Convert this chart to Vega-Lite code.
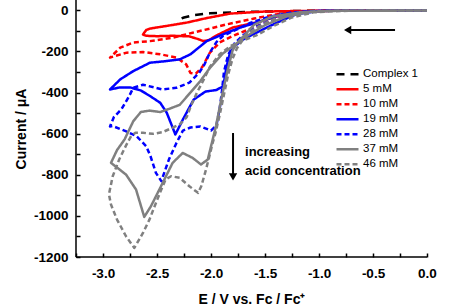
{
"$schema": "https://vega.github.io/schema/vega-lite/v6.json",
"width": 351, "height": 257,
"autosize": "none",
"padding": {"left": 76, "top": 0, "right": 30, "bottom": 50},
"background": "white",
"config": {"view": {"stroke": null}, "font": "Liberation Sans"},
"datasets": {
"cv": [
{"s":"Complex 1","i":0,"E":0,"I":-1},{"s":"Complex 1","i":1,"E":-0.5,"I":-1},{"s":"Complex 1","i":2,"E":-1.0,"I":-2},{"s":"Complex 1","i":3,"E":-1.5,"I":-6},{"s":"Complex 1","i":4,"E":-1.8,"I":-10},{"s":"Complex 1","i":5,"E":-2.01,"I":-15},{"s":"Complex 1","i":6,"E":-2.155,"I":-23},{"s":"Complex 1","i":7,"E":-2.25,"I":-35},{"s":"Complex 1","i":8,"E":-2.32,"I":-50},
{"s":"5 mM","i":0,"E":0,"I":-1},{"s":"5 mM","i":1,"E":-0.8,"I":-2},{"s":"5 mM","i":2,"E":-1.0,"I":-3},{"s":"5 mM","i":3,"E":-1.2,"I":-8},{"s":"5 mM","i":4,"E":-1.39,"I":-30},{"s":"5 mM","i":5,"E":-1.57,"I":-58},{"s":"5 mM","i":6,"E":-1.8,"I":-84},{"s":"5 mM","i":7,"E":-1.94,"I":-120},{"s":"5 mM","i":8,"E":-2.02,"I":-145},{"s":"5 mM","i":9,"E":-2.07,"I":-150},{"s":"5 mM","i":10,"E":-2.12,"I":-140},{"s":"5 mM","i":11,"E":-2.2,"I":-127},{"s":"5 mM","i":12,"E":-2.35,"I":-124},{"s":"5 mM","i":13,"E":-2.5,"I":-126},{"s":"5 mM","i":14,"E":-2.6,"I":-124},{"s":"5 mM","i":15,"E":-2.63,"I":-118},{"s":"5 mM","i":16,"E":-2.6,"I":-96},{"s":"5 mM","i":17,"E":-2.565,"I":-89},{"s":"5 mM","i":18,"E":-2.41,"I":-76},{"s":"5 mM","i":19,"E":-2.225,"I":-60},{"s":"5 mM","i":20,"E":-2.04,"I":-38},{"s":"5 mM","i":21,"E":-1.82,"I":-16},{"s":"5 mM","i":22,"E":-1.5,"I":-6},{"s":"5 mM","i":23,"E":-1.0,"I":-2},{"s":"5 mM","i":24,"E":0,"I":-1},
{"s":"10 mM","i":0,"E":0,"I":-1},{"s":"10 mM","i":1,"E":-0.9,"I":-2},{"s":"10 mM","i":2,"E":-1.2,"I":-11},{"s":"10 mM","i":3,"E":-1.39,"I":-40},{"s":"10 mM","i":4,"E":-1.57,"I":-76},{"s":"10 mM","i":5,"E":-1.8,"I":-125},{"s":"10 mM","i":6,"E":-1.92,"I":-157},{"s":"10 mM","i":7,"E":-2.01,"I":-206},{"s":"10 mM","i":8,"E":-2.08,"I":-275},{"s":"10 mM","i":9,"E":-2.14,"I":-308},{"s":"10 mM","i":10,"E":-2.19,"I":-305},{"s":"10 mM","i":11,"E":-2.23,"I":-263},{"s":"10 mM","i":12,"E":-2.32,"I":-230},{"s":"10 mM","i":13,"E":-2.47,"I":-214},{"s":"10 mM","i":14,"E":-2.63,"I":-203},{"s":"10 mM","i":15,"E":-2.78,"I":-206},{"s":"10 mM","i":16,"E":-2.935,"I":-230},{"s":"10 mM","i":17,"E":-2.84,"I":-182},{"s":"10 mM","i":18,"E":-2.72,"I":-157},{"s":"10 mM","i":19,"E":-2.565,"I":-150},{"s":"10 mM","i":20,"E":-2.35,"I":-133},{"s":"10 mM","i":21,"E":-2.17,"I":-109},{"s":"10 mM","i":22,"E":-2.0,"I":-88},{"s":"10 mM","i":23,"E":-1.85,"I":-68},{"s":"10 mM","i":24,"E":-1.6,"I":-40},{"s":"10 mM","i":25,"E":-1.4,"I":-20},{"s":"10 mM","i":26,"E":-1.2,"I":-8},{"s":"10 mM","i":27,"E":-1.0,"I":-3},{"s":"10 mM","i":28,"E":0,"I":-1},
{"s":"19 mM","i":0,"E":0,"I":-1},{"s":"19 mM","i":1,"E":-1.0,"I":-3},{"s":"19 mM","i":2,"E":-1.21,"I":-19},{"s":"19 mM","i":3,"E":-1.39,"I":-60},{"s":"19 mM","i":4,"E":-1.58,"I":-109},{"s":"19 mM","i":5,"E":-1.7,"I":-141},{"s":"19 mM","i":6,"E":-1.78,"I":-174},{"s":"19 mM","i":7,"E":-1.824,"I":-206},{"s":"19 mM","i":8,"E":-1.855,"I":-271},{"s":"19 mM","i":9,"E":-1.886,"I":-369},{"s":"19 mM","i":10,"E":-1.95,"I":-388},{"s":"19 mM","i":11,"E":-2.05,"I":-395},{"s":"19 mM","i":12,"E":-2.16,"I":-434},{"s":"19 mM","i":13,"E":-2.26,"I":-531},{"s":"19 mM","i":14,"E":-2.33,"I":-604},{"s":"19 mM","i":15,"E":-2.41,"I":-498},{"s":"19 mM","i":16,"E":-2.47,"I":-450},{"s":"19 mM","i":17,"E":-2.565,"I":-417},{"s":"19 mM","i":18,"E":-2.65,"I":-390},{"s":"19 mM","i":19,"E":-2.75,"I":-375},{"s":"19 mM","i":20,"E":-2.85,"I":-376},{"s":"19 mM","i":21,"E":-2.935,"I":-385},{"s":"19 mM","i":22,"E":-2.84,"I":-336},{"s":"19 mM","i":23,"E":-2.72,"I":-296},{"s":"19 mM","i":24,"E":-2.565,"I":-255},{"s":"19 mM","i":25,"E":-2.41,"I":-247},{"s":"19 mM","i":26,"E":-2.29,"I":-239},{"s":"19 mM","i":27,"E":-2.19,"I":-214},{"s":"19 mM","i":28,"E":-2.04,"I":-150},{"s":"19 mM","i":29,"E":-1.89,"I":-117},{"s":"19 mM","i":30,"E":-1.73,"I":-84},{"s":"19 mM","i":31,"E":-1.58,"I":-60},{"s":"19 mM","i":32,"E":-1.39,"I":-28},{"s":"19 mM","i":33,"E":-1.2,"I":-10},{"s":"19 mM","i":34,"E":-1.0,"I":-3},{"s":"19 mM","i":35,"E":0,"I":-1},
{"s":"28 mM","i":0,"E":0,"I":-1},{"s":"28 mM","i":1,"E":-0.9,"I":-2},{"s":"28 mM","i":2,"E":-1.1,"I":-8},{"s":"28 mM","i":3,"E":-1.3,"I":-25},{"s":"28 mM","i":4,"E":-1.45,"I":-50},{"s":"28 mM","i":5,"E":-1.6,"I":-85},{"s":"28 mM","i":6,"E":-1.7,"I":-120},{"s":"28 mM","i":7,"E":-1.78,"I":-160},{"s":"28 mM","i":8,"E":-1.84,"I":-215},{"s":"28 mM","i":9,"E":-1.88,"I":-300},{"s":"28 mM","i":10,"E":-1.9,"I":-400},{"s":"28 mM","i":11,"E":-1.92,"I":-480},{"s":"28 mM","i":12,"E":-1.95,"I":-560},{"s":"28 mM","i":13,"E":-2.0,"I":-585},{"s":"28 mM","i":14,"E":-2.1,"I":-565},{"s":"28 mM","i":15,"E":-2.19,"I":-570},{"s":"28 mM","i":16,"E":-2.26,"I":-585},{"s":"28 mM","i":17,"E":-2.32,"I":-645},{"s":"28 mM","i":18,"E":-2.39,"I":-726},{"s":"28 mM","i":19,"E":-2.46,"I":-831},{"s":"28 mM","i":20,"E":-2.51,"I":-791},{"s":"28 mM","i":21,"E":-2.56,"I":-710},{"s":"28 mM","i":22,"E":-2.6,"I":-661},{"s":"28 mM","i":23,"E":-2.69,"I":-612},{"s":"28 mM","i":24,"E":-2.79,"I":-588},{"s":"28 mM","i":25,"E":-2.91,"I":-563},{"s":"28 mM","i":26,"E":-2.935,"I":-565},{"s":"28 mM","i":27,"E":-2.9,"I":-520},{"s":"28 mM","i":28,"E":-2.83,"I":-482},{"s":"28 mM","i":29,"E":-2.76,"I":-420},{"s":"28 mM","i":30,"E":-2.72,"I":-377},{"s":"28 mM","i":31,"E":-2.63,"I":-362},{"s":"28 mM","i":32,"E":-2.45,"I":-385},{"s":"28 mM","i":33,"E":-2.32,"I":-377},{"s":"28 mM","i":34,"E":-2.2,"I":-352},{"s":"28 mM","i":35,"E":-2.11,"I":-304},{"s":"28 mM","i":36,"E":-2.06,"I":-263},{"s":"28 mM","i":37,"E":-2.01,"I":-205},{"s":"28 mM","i":38,"E":-1.95,"I":-155},{"s":"28 mM","i":39,"E":-1.89,"I":-125},{"s":"28 mM","i":40,"E":-1.76,"I":-93},{"s":"28 mM","i":41,"E":-1.64,"I":-62},{"s":"28 mM","i":42,"E":-1.45,"I":-30},{"s":"28 mM","i":43,"E":-1.25,"I":-10},{"s":"28 mM","i":44,"E":-1.0,"I":-3},{"s":"28 mM","i":45,"E":0,"I":-1},
{"s":"37 mM","i":0,"E":0,"I":-1},{"s":"37 mM","i":1,"E":-0.8,"I":-2},{"s":"37 mM","i":2,"E":-1.0,"I":-5},{"s":"37 mM","i":3,"E":-1.18,"I":-10},{"s":"37 mM","i":4,"E":-1.43,"I":-30},{"s":"37 mM","i":5,"E":-1.6,"I":-70},{"s":"37 mM","i":6,"E":-1.7,"I":-127},{"s":"37 mM","i":7,"E":-1.76,"I":-160},{"s":"37 mM","i":8,"E":-1.8,"I":-195},{"s":"37 mM","i":9,"E":-1.85,"I":-300},{"s":"37 mM","i":10,"E":-1.9,"I":-420},{"s":"37 mM","i":11,"E":-1.954,"I":-563},{"s":"37 mM","i":12,"E":-1.984,"I":-628},{"s":"37 mM","i":13,"E":-2.03,"I":-726},{"s":"37 mM","i":14,"E":-2.093,"I":-750},{"s":"37 mM","i":15,"E":-2.17,"I":-718},{"s":"37 mM","i":16,"E":-2.262,"I":-694},{"s":"37 mM","i":17,"E":-2.355,"I":-742},{"s":"37 mM","i":18,"E":-2.463,"I":-856},{"s":"37 mM","i":19,"E":-2.556,"I":-953},{"s":"37 mM","i":20,"E":-2.618,"I":-1005},{"s":"37 mM","i":21,"E":-2.694,"I":-872},{"s":"37 mM","i":22,"E":-2.787,"I":-799},{"s":"37 mM","i":23,"E":-2.926,"I":-742},{"s":"37 mM","i":24,"E":-2.87,"I":-680},{"s":"37 mM","i":25,"E":-2.8,"I":-628},{"s":"37 mM","i":26,"E":-2.72,"I":-540},{"s":"37 mM","i":27,"E":-2.65,"I":-495},{"s":"37 mM","i":28,"E":-2.57,"I":-488},{"s":"37 mM","i":29,"E":-2.47,"I":-495},{"s":"37 mM","i":30,"E":-2.38,"I":-478},{"s":"37 mM","i":31,"E":-2.29,"I":-460},{"s":"37 mM","i":32,"E":-2.19,"I":-400},{"s":"37 mM","i":33,"E":-2.1,"I":-345},{"s":"37 mM","i":34,"E":-2.01,"I":-280},{"s":"37 mM","i":35,"E":-1.89,"I":-210},{"s":"37 mM","i":36,"E":-1.79,"I":-172},{"s":"37 mM","i":37,"E":-1.7,"I":-135},{"s":"37 mM","i":38,"E":-1.5,"I":-72},{"s":"37 mM","i":39,"E":-1.3,"I":-30},{"s":"37 mM","i":40,"E":-1.1,"I":-9},{"s":"37 mM","i":41,"E":-0.9,"I":-3},{"s":"37 mM","i":42,"E":0,"I":-1},
{"s":"46 mM","i":0,"E":0,"I":-1},{"s":"46 mM","i":1,"E":-0.9,"I":-2},{"s":"46 mM","i":2,"E":-1.1,"I":-8},{"s":"46 mM","i":3,"E":-1.3,"I":-22},{"s":"46 mM","i":4,"E":-1.45,"I":-50},{"s":"46 mM","i":5,"E":-1.6,"I":-90},{"s":"46 mM","i":6,"E":-1.7,"I":-140},{"s":"46 mM","i":7,"E":-1.76,"I":-185},{"s":"46 mM","i":8,"E":-1.8,"I":-235},{"s":"46 mM","i":9,"E":-1.84,"I":-310},{"s":"46 mM","i":10,"E":-1.88,"I":-410},{"s":"46 mM","i":11,"E":-1.92,"I":-510},{"s":"46 mM","i":12,"E":-1.96,"I":-600},{"s":"46 mM","i":13,"E":-1.984,"I":-644},{"s":"46 mM","i":14,"E":-2.015,"I":-710},{"s":"46 mM","i":15,"E":-2.046,"I":-774},{"s":"46 mM","i":16,"E":-2.09,"I":-856},{"s":"46 mM","i":17,"E":-2.12,"I":-888},{"s":"46 mM","i":18,"E":-2.2,"I":-856},{"s":"46 mM","i":19,"E":-2.29,"I":-815},{"s":"46 mM","i":20,"E":-2.37,"I":-807},{"s":"46 mM","i":21,"E":-2.42,"I":-823},{"s":"46 mM","i":22,"E":-2.46,"I":-872},{"s":"46 mM","i":23,"E":-2.51,"I":-937},{"s":"46 mM","i":24,"E":-2.57,"I":-1018},{"s":"46 mM","i":25,"E":-2.63,"I":-1083},{"s":"46 mM","i":26,"E":-2.71,"I":-1156},{"s":"46 mM","i":27,"E":-2.787,"I":-1099},{"s":"46 mM","i":28,"E":-2.87,"I":-1018},{"s":"46 mM","i":29,"E":-2.926,"I":-945},{"s":"46 mM","i":30,"E":-2.945,"I":-895},{"s":"46 mM","i":31,"E":-2.91,"I":-807},{"s":"46 mM","i":32,"E":-2.85,"I":-726},{"s":"46 mM","i":33,"E":-2.79,"I":-661},{"s":"46 mM","i":34,"E":-2.74,"I":-612},{"s":"46 mM","i":35,"E":-2.7,"I":-596},{"s":"46 mM","i":36,"E":-2.63,"I":-596},{"s":"46 mM","i":37,"E":-2.54,"I":-601},{"s":"46 mM","i":38,"E":-2.45,"I":-593},{"s":"46 mM","i":39,"E":-2.355,"I":-571},{"s":"46 mM","i":40,"E":-2.29,"I":-555},{"s":"46 mM","i":41,"E":-2.225,"I":-520},{"s":"46 mM","i":42,"E":-2.19,"I":-470},{"s":"46 mM","i":43,"E":-2.13,"I":-400},{"s":"46 mM","i":44,"E":-2.07,"I":-340},{"s":"46 mM","i":45,"E":-2.01,"I":-275},{"s":"46 mM","i":46,"E":-1.92,"I":-214},{"s":"46 mM","i":47,"E":-1.82,"I":-174},{"s":"46 mM","i":48,"E":-1.73,"I":-152},{"s":"46 mM","i":49,"E":-1.58,"I":-122},{"s":"46 mM","i":50,"E":-1.42,"I":-76},{"s":"46 mM","i":51,"E":-1.25,"I":-35},{"s":"46 mM","i":52,"E":-1.05,"I":-10},{"s":"46 mM","i":53,"E":-0.8,"I":-3},{"s":"46 mM","i":54,"E":0,"I":-1}
],
"ann": [{"E":-0.296,"E2":-0.72,"I":-96,"I2":-96},{"E":-1.796,"E2":-1.796,"I":-597,"I2":-800}],
"frame": [{"E":-3.25,"E2":0,"I":-1200,"I2":-1200},{"E":-3.25,"E2":-3.25,"I":-1200,"I2":50}],
"heads": [{"E":-0.735,"I":-96,"dir":"left"},{"E":-1.796,"I":-810,"dir":"down"}],
"txt": [{"E":-1.685,"I":-689,"t":"increasing"},{"E":-1.685,"I":-782,"t":"acid concentration"}]
},
"encoding": {
  "x": {"field": "E", "type": "quantitative", "scale": {"domain": [-3.25, 0], "nice": false, "zero": false},
   "axis": {"orient": "bottom", "values": [-3.25,-3,-2.75,-2.5,-2.25,-2,-1.75,-1.5,-1.25,-1,-0.75,-0.5,-0.25,0],
    "labelExpr": "abs(datum.value*2 - round(datum.value*2)) < 0.001 ? replace(format(datum.value, '.1f'), '\u2212', '-') : ''",
    "domain": false, "ticks": true, "tickSize": -4, "tickWidth": 1.5, "tickColor": "#000000", "tickOpacity": 1, "grid": false, "zindex": 2,
    "labelFontSize": 13.5, "labelFontWeight": "bold", "labelColor": "black", "labelPadding": 13, "labelFlush": false, "labelOverlap": false, "labelBound": false,
    "title": "E / V vs. Fc / Fc\u207A", "titleFontSize": 14, "titleFontWeight": "bold", "titleColor": "black", "titlePadding": 13}},
  "y": {"field": "I", "type": "quantitative", "scale": {"domain": [-1200, 50], "nice": false, "zero": false},
   "axis": {"orient": "left", "values": [-1200,-1100,-1000,-900,-800,-700,-600,-500,-400,-300,-200,-100,0],
    "labelExpr": "datum.value % 200 == 0 ? replace(format(datum.value, 'd'), '\u2212', '-') : ''",
    "domain": false, "ticks": true, "tickSize": -4, "tickWidth": 1.5, "tickColor": "#000000", "tickOpacity": 1, "grid": false, "zindex": 2,
    "labelFontSize": 13.5, "labelFontWeight": "bold", "labelColor": "black", "labelPadding": 12, "labelFlush": false, "labelOverlap": false, "labelBound": false,
    "title": "Current / \u03BCA", "titleFontSize": 14, "titleFontWeight": "bold", "titleColor": "black", "titlePadding": 5}}
},
"layer": [
{"data": {"name": "frame"},
 "mark": {"type": "rule", "strokeWidth": 1.5, "color": "#000000", "opacity": 1},
 "encoding": {
  "x2": {"field": "E2"},
  "y2": {"field": "I2"}
 }},
{"data": {"name": "cv"},
 "mark": {"type": "line", "strokeWidth": 2.5, "strokeJoin": "round"},
 "encoding": {
  "color": {"field": "s", "type": "nominal", "scale": {"domain": ["Complex 1","5 mM","10 mM","19 mM","28 mM","37 mM","46 mM"], "range": ["#000000","#ff0000","#ff0000","#0000ff","#0000ff","#808080","#808080"]},
   "legend": {"title": null, "orient": "none", "legendX": 259, "legendY": 67, "symbolType": "stroke", "symbolSize": 484, "symbolStrokeWidth": 2.5, "labelFontSize": 11.5, "labelColor": "black", "labelOffset": 3, "rowPadding": 0, "clipHeight": 14.5, "padding": 0}},
  "strokeDash": {"field": "s", "type": "nominal", "scale": {"domain": ["Complex 1","5 mM","10 mM","19 mM","28 mM","37 mM","46 mM"], "range": [[8,6],[1,0],[5,3],[1,0],[5,3],[1,0],[5,3]]},
   "legend": {"title": null, "orient": "none", "legendX": 259, "legendY": 67, "symbolType": "stroke", "symbolSize": 484, "symbolStrokeWidth": 2.5, "labelFontSize": 11.5, "labelColor": "black", "labelOffset": 3, "rowPadding": 0, "clipHeight": 14.5, "padding": 0}},
  "order": {"field": "i", "type": "quantitative"}
 }},
{"data": {"name": "ann"},
 "mark": {"type": "rule", "strokeWidth": 2, "color": "black"},
 "encoding": {
  "x2": {"field": "E2"},
  "y2": {"field": "I2"}
 }},
{"data": {"name": "heads"},
 "mark": {"type": "point", "filled": true, "opacity": 1, "color": "black", "size": 70},
 "encoding": {
  "shape": {"field": "dir", "type": "nominal", "scale": {"domain": ["left","down"], "range": ["triangle-left","triangle-down"]}, "legend": null}
 }},
{"data": {"name": "txt"},
 "mark": {"type": "text", "align": "left", "baseline": "middle", "fontWeight": "bold", "fontSize": 13, "color": "black"},
 "encoding": {
  "text": {"field": "t"}
 }}
]
}
